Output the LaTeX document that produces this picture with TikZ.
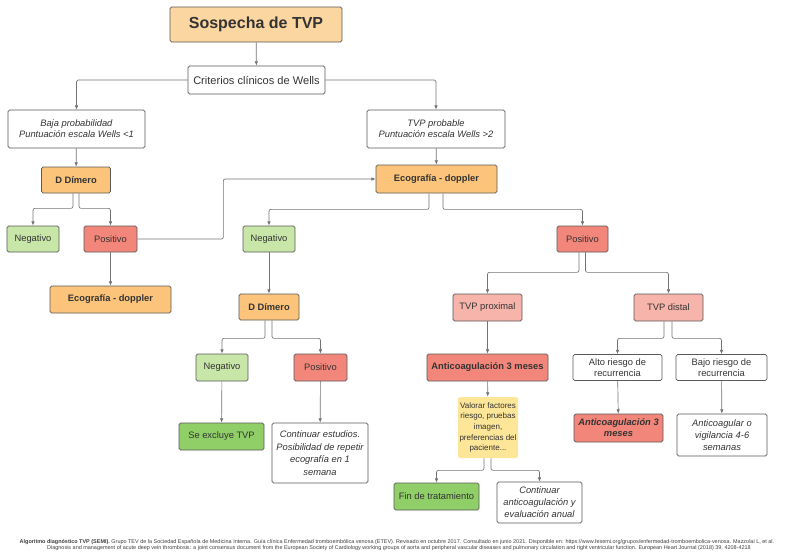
\documentclass[tikz,border=0pt]{standalone}
\usepackage{fontspec}
\setmainfont{Liberation Sans}
\usepackage{tikz}
\usetikzlibrary{arrows.meta, positioning}
\definecolor{naranja}{RGB}{252,196,122}
\definecolor{naranjaclaro}{RGB}{252,214,160}
\definecolor{verdeclaro}{RGB}{200,230,168}
\definecolor{verde}{RGB}{144,206,104}
\definecolor{rojo}{RGB}{242,134,122}
\definecolor{rojoclaro}{RGB}{246,180,170}
\definecolor{amarillo}{RGB}{254,230,152}
\tikzset{
x=0.75pt, y=-0.75pt, % one unit is one pixel of the reference
box/.style 2 args={draw=black!65, line width=0.5pt, rounded corners=1.2pt, minimum width=#1*0.75pt, minimum height=#2*0.75pt, inner sep=1pt, align=center, font=\fontsize{7}{8.2}\selectfont, text=black!80}, % every box of the chart
arr/.style={-{Latex[length=3.2pt,width=2.6pt]}, draw=black!55, line width=0.5pt, rounded corners=1.5pt}, % the connectors
}
\newcommand{\ital}[1]{\textit{#1}}

\begin{document}
\begin{tikzpicture}
\useasboundingbox (0,0) rectangle (790,558);

% first levels
\node[box={172}{35}, fill=naranjaclaro, font=\fontsize{12}{14}\selectfont\bfseries] (sosp) at (256,24.5) {Sospecha de TVP};
\node[box={137}{28}, font=\fontsize{8.3}{9}\selectfont] (wells) at (256.5,80) {Criterios clínicos de Wells};
\node[box={137}{38}] (baja) at (76.5,129) {\ital{Baja probabilidad}\\\ital{Puntuación escala Wells <1}};
\node[box={138}{38}] (prob) at (436,129) {\ital{TVP probable}\\\ital{Puntuación escala Wells >2}};
\node[box={69}{26}, fill=naranja, font=\fontsize{7}{8.2}\selectfont\bfseries] (dd1) at (76,180) {D Dímero};
\node[box={121}{28}, fill=naranja, font=\fontsize{7}{8.2}\selectfont\bfseries] (eco1) at (436.5,179) {Ecografía - doppler};

% left branch
\node[box={52}{26}, fill=verdeclaro] (neg1) at (33,239) {Negativo};
\node[box={53}{26}, fill=rojo] (pos1) at (110.5,239) {Positivo};
\node[box={121}{27}, fill=naranja, font=\fontsize{7}{8.2}\selectfont\bfseries] (eco2) at (110.5,299.5) {Ecografía - doppler};

% middle branch
\node[box={52}{26}, fill=verdeclaro] (neg2) at (269,239) {Negativo};
\node[box={60}{26}, fill=naranja, font=\fontsize{7}{8.2}\selectfont\bfseries] (dd2) at (269,307) {D Dímero};
\node[box={52}{27}, fill=verdeclaro] (neg3) at (222,367.5) {Negativo};
\node[box={53}{27}, fill=rojo] (pos3) at (320.5,367.5) {Positivo};
\node[box={85}{27}, fill=verde] (excl) at (221.5,436.5) {Se excluye TVP};
\node[box={96}{60}, font=\fontsize{7}{9.5}\selectfont\itshape] (cont1) at (320,453) {Continuar estudios.\\Posibilidad de repetir\\ecografía en 1\\semana};

% right branch
\node[box={51}{26}, fill=rojo] (pos2) at (582.5,239) {Positivo};
\node[box={69}{27}, fill=rojoclaro] (prox) at (487.5,307.5) {TVP proximal};
\node[box={69}{27}, fill=rojoclaro] (dist) at (668.5,307.5) {TVP distal};
\node[box={121}{27}, fill=rojo, font=\fontsize{7}{8.2}\selectfont\bfseries] (anti1) at (487.5,367.5) {Anticoagulación 3 meses};
\node[box={60}{61}, fill=amarillo, draw=none, font=\fontsize{6}{8}\selectfont] (valor) at (488,427.5) {Valorar factores\\riesgo, pruebas\\imagen,\\preferencias del\\paciente...};
\node[box={85}{27}, fill=verde] (fin) at (436.5,496.5) {Fin de tratamiento};
\node[box={85}{41}, font=\fontsize{7}{9}\selectfont\itshape] (cont2) at (539.5,502.5) {Continuar\\anticoagulación y\\evaluación anual};
\node[box={89}{26}] (alto) at (617.5,367.5) {Alto riesgo de\\recurrencia};
\node[box={91}{26}] (bajo) at (721.5,367.5) {Bajo riesgo de\\recurrencia};
\node[box={89}{28}, fill=rojo, font=\fontsize{7}{8.2}\selectfont\bfseries\itshape] (anti2) at (618.5,428) {Anticoagulación 3\\meses};
\node[box={90}{42}, font=\fontsize{7}{9}\selectfont\itshape] (antiv) at (722,435) {Anticoagular o\\vigilancia 4-6\\semanas};

% footer
\node[font=\fontsize{4.1}{5}\selectfont, text=black!75, inner sep=0pt] (ref1) at (397,542) {\textbf{Algoritmo diagnóstico TVP (SEMI).} Grupo TEV de la Sociedad Española de Medicina Interna. Guía clínica Enfermedad tromboembólica venosa (ETEV). Revisado en octubre 2017. Consultado en junio 2021. Disponible en: https://www.fesemi.org/grupos/enfermedad-tromboembolica-venosa. Mazzolai L, et al.};
\node[font=\fontsize{4.1}{5}\selectfont, text=black!75, inner sep=0pt] (ref2) at (399,548.5) {Diagnosis and management of acute deep vein thrombosis: a joint consensus document from the European Society of Cardiology working groups of aorta and peripheral vascular diseases and pulmonary circulation and right ventricular function. European Heart Journal (2018) 39, 4208-4218};

% edges
\draw[arr] (sosp) -- (wells); % sospecha to wells
\draw[arr] (wells.west) -| (baja); % wells to baja
\draw[arr] (wells.east) -| (prob); % wells to probable
\draw[arr] (baja) -- (dd1); % baja to dimero
\draw[arr] (prob) -- (eco1); % probable to eco
\draw[arr] ([xshift=-3*0.75pt]dd1.south) -- ++(0,15) -| (neg1); % dimero to negativo
\draw[arr] ([xshift=3*0.75pt]dd1.south) -- ++(0,15) -| (pos1); % dimero to positivo
\draw[arr] (pos1) -- (eco2); % positivo to eco
\draw[arr] (pos1.east) -- ++(86,0) |- (eco1.west); % positivo to eco (top)
\draw[arr] ([xshift=-7.5*0.75pt]eco1.south) -- ++(0,16) -| (neg2); % eco to negativo
\draw[arr] ([xshift=6.5*0.75pt]eco1.south) -- ++(0,16) -| (pos2); % eco to positivo
\draw[arr] (neg2) -- (dd2); % negativo to dimero
\draw[arr] ([xshift=-4*0.75pt]dd2.south) -- ++(0,18) -| (neg3); % dimero to negativo
\draw[arr] ([xshift=3*0.75pt]dd2.south) -- ++(0,18) -| (pos3); % dimero to positivo
\draw[arr] (neg3) -- (excl); % negativo to excluye
\draw[arr] (pos3) -- (cont1); % positivo to continuar
\draw[arr] ([xshift=-3.5*0.75pt]pos2.south) -- ++(0,20) -| (prox); % positivo to proximal
\draw[arr] ([xshift=3*0.75pt]pos2.south) -- ++(0,20) -| (dist); % positivo to distal
\draw[arr] (prox) -- (anti1); % proximal to anticoagulacion
\draw[arr] (anti1) -- (valor); % anticoagulacion to valorar
\draw[arr] ([xshift=-4*0.75pt]valor.south) -- ++(0,12) -| (fin); % valorar to fin
\draw[arr] ([xshift=3*0.75pt]valor.south) -- ++(0,12) -| (cont2); % valorar to continuar
\draw[arr] ([xshift=-4.5*0.75pt]dist.south) -- ++(0,17) -| (alto); % distal to alto
\draw[arr] ([xshift=3.5*0.75pt]dist.south) -- ++(0,17) -| (bajo); % distal to bajo
\draw[arr] (alto) -- (anti2); % alto to anticoagulacion
\draw[arr] (bajo) -- (antiv); % bajo to anticoagular
\end{tikzpicture}
\end{document}
